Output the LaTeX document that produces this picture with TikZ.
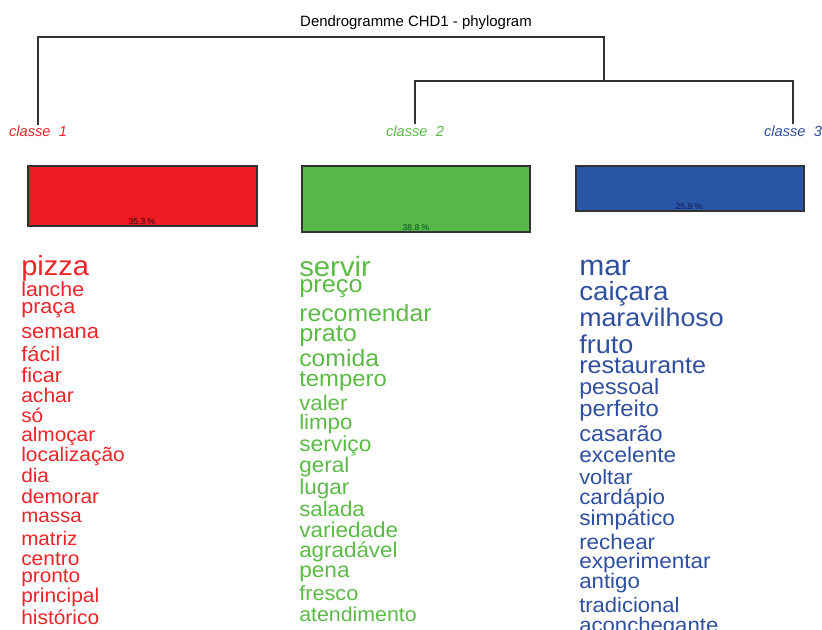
\documentclass[tikz,border=0pt]{standalone}
\usepackage{fontspec}
\setmainfont{Liberation Sans}
\usepackage{tikz}
\usetikzlibrary{positioning,calc}
\usepackage{xcolor}

\definecolor{cl1}{HTML}{ED1C24}
\definecolor{cl2}{HTML}{55B848}
\definecolor{cl3}{HTML}{2855A5}
\definecolor{tx1}{HTML}{EE2428}
\definecolor{tx2}{HTML}{5CBB46}
\definecolor{tx3}{HTML}{2F4F9F}
\definecolor{pc1}{HTML}{2A0808}
\definecolor{pc2}{HTML}{0A4A20}
\definecolor{pc3}{HTML}{141A50}

\newcommand{\squash}[1]{\scalebox{1}[0.95]{#1}}

\begin{document}
\begin{tikzpicture}[x=0.75pt, y=-0.75pt,
    dendro/.style={draw=black!80, line width=0.9pt},
    bar/.style={draw=black!80, line width=1.1pt},
    cls/.style={anchor=base, font=\fontsize{11}{13}\selectfont\itshape, inner sep=0pt},
    pct/.style={anchor=base, font=\fontsize{6.4}{7}\selectfont, inner sep=0pt},
    word/.style={anchor=base west, inner sep=0pt}]
    % Background
    \useasboundingbox (0,0) rectangle (822,630);
    \clip (0,0) rectangle (822,630);
    \fill[white] (0,0) rectangle (822,630);

    % Title
    \node[anchor=base, font=\fontsize{11.2}{13}\selectfont, inner sep=0pt] (title) at (416,27) {Dendrogramme CHD1 - phylogram};

    % Class labels
    \node[cls, text=tx1] (cls1) at (38,137) {classe\ \ 1};
    \node[cls, text=tx2] (cls2) at (415,137) {classe\ \ 2};
    \node[cls, text=tx3] (cls3) at (793,137) {classe\ \ 3};

    % Dendrogram
    \coordinate (root) at (604,37);
    \coordinate (n23) at (604,81);
    \draw[dendro] (cls1.north |- 0,125) |- (root) -- (n23);
    \draw[dendro] (cls2.north |- 0,124) |- (n23) -| (cls3.north |- 0,124);

    % Bars
    \draw[bar, fill=cl1] (28,166) rectangle (257,226);
    \draw[bar, fill=cl2] (302,166) rectangle (530,232);
    \draw[bar, fill=cl3] (576,166) rectangle (804,211);

    % Percentages
    \node[pct, text=pc1] (p1) at (142,225) {35.3 \%};
    \node[pct, text=pc2] (p2) at (416,231) {38.8 \%};
    \node[pct, text=pc3] (p3) at (689,210) {25.9 \%};

    % Words of classe 1
    \foreach \w/\y/\s [count=\i] in {pizza/276/21.8, lanche/297/16, praça/314/16.2,
        semana/339/16.4, fácil/362/16.4, ficar/383/16.2, achar/403/15.8, só/423/15.6,
        almoçar/442/15.6, localização/462/15.7, dia/483/15.6, demorar/504/15.7,
        massa/523/15.4, matriz/546/15.5, centro/566/15.7, pronto/583/15.6,
        principal/603/15.7, histórico/625/15.7}
        \node[word, text=tx1, font=\fontsize{\s}{\s}\selectfont] (r\i) at (21,\y) {\squash{\w}};

    % Words of classe 2
    \foreach \w/\y/\s [count=\i] in {servir/277/22, preço/293/19, recomendar/322/18.6,
        prato/342/19, comida/367/18.6, tempero/387/17.9, valer/411/16.7, limpo/430/16.7,
        serviço/452/17.1, geral/473/16.9, lugar/495/16.9, salada/517/16.7,
        variedade/538/16.9, agradável/558/16.8, pena/578/17, fresco/601/16.3,
        atendimento/622/16}
        \node[word, text=tx2, font=\fontsize{\s}{\s}\selectfont] (g\i) at (299,\y) {\squash{\w}};

    % Words of classe 3
    \foreach \w/\y/\s [count=\i] in {mar/276/22.5, caiçara/301/20.8, maravilhoso/327/20.1,
        fruto/354/20.3, restaurante/374/18.8, pessoal/395/17.4, perfeito/417/17.9,
        casarão/442/17.6, excelente/463/17, voltar/485/16.4, cardápio/505/16.8,
        simpático/526/17, rechear/550/16.8, experimentar/569/16.9, antigo/589/16.7,
        tradicional/613/16.5, aconchegante/633/16.6}
        \node[word, text=tx3, font=\fontsize{\s}{\s}\selectfont] (b\i) at (579,\y) {\squash{\w}};

\end{tikzpicture}
\end{document}
